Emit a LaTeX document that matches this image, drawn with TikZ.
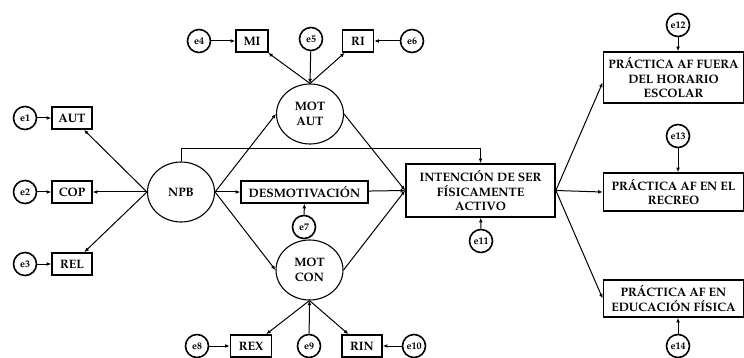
\documentclass[tikz,border=0pt]{standalone}
\usepackage[T1]{fontenc}
\usepackage{mathpazo}
\usetikzlibrary{positioning,arrows.meta,shapes.geometric}

\begin{document}
\begin{tikzpicture}[
    x=1pt, y=-1pt,
    var/.style={
        draw,
        line width=1.7pt,
        inner sep=0pt,
        minimum height=22pt,
        align=center,
        font=\fontsize{12.2}{14.5}\selectfont\bfseries
    },
    latent/.style={
        draw,
        ellipse,
        line width=1.1pt,
        inner sep=0pt,
        minimum width=67pt,
        minimum height=60pt,
        align=center,
        font=\fontsize{12.2}{14.5}\selectfont\bfseries
    },
    err/.style={draw, circle, line width=1.6pt, minimum size=23pt, inner sep=0pt,
        font=\fontsize{10}{11}\selectfont\bfseries},
    path/.style={-{Latex[length=4.5pt,width=3.8pt]}, line width=1pt}
]
\useasboundingbox (0,0) rectangle (744,358);

% Need for basic psychological needs
\node[latent] (npb) at (181,192) {NPB};
\node[var, minimum width=40pt] (aut) at (72,118) {AUT};
\node[var, minimum width=40pt] (cop) at (72,192) {COP};
\node[var, minimum width=40pt] (rel) at (72,264) {REL};
\node[err] (e1) at (25,118) {e1};
\node[err] (e2) at (25,192) {e2};
\node[err] (e3) at (25,264) {e3};

% Autonomous motivation
\node[latent] (motaut) at (310,114) {MOT\\AUT};
\node[var, minimum width=32pt] (mi) at (252,41) {MI};
\node[var, minimum width=31pt] (ri) at (358,41) {RI};
\node[err] (e4) at (199,41) {e4};
\node[err] (e5) at (311,39) {e5};
\node[err] (e6) at (412,41) {e6};

% Amotivation
\node[var, minimum width=127pt] (desmot) at (304.5,192) {DESMOTIVACI\'ON};
\node[err] (e7) at (304,227) {e7};

% Controlled motivation
\node[latent] (motcon) at (309.5,270) {MOT\\CON};
\node[var, minimum width=41pt] (rex) at (251,346) {REX};
\node[var, minimum width=40pt] (rin) at (362,346) {RIN};
\node[err] (e8) at (197,346) {e8};
\node[err] (e9) at (309,346) {e9};
\node[err] (e10) at (414,346) {e10};

% Intention
\node[var, minimum width=149pt, minimum height=53pt] (int) at (480.5,190.5)
    {INTENCI\'ON DE SER\\F\'ISICAMENTE\\ACTIVO};
\node[err] (e11) at (481,241) {e11};

% Physical activity outcomes
\node[var, minimum width=140pt, minimum height=51pt] (fuera) at (673.5,77.5)
    {PR\'ACTICA AF FUERA\\DEL HORARIO\\ESCOLAR};
\node[var, minimum width=140pt, minimum height=38pt] (recreo) at (673.5,192)
    {PR\'ACTICA AF EN EL\\RECREO};
\node[var, minimum width=140pt, minimum height=37pt] (ef) at (673.5,298.5)
    {PR\'ACTICA AF EN\\EDUCACI\'ON F\'ISICA};
\node[err] (e12) at (678,25) {e12};
\node[err] (e13) at (678,136) {e13};
\node[err] (e14) at (678,346) {e14};

% Error terms
\draw[path] (e1) -- (aut);
\draw[path] (e2) -- (cop);
\draw[path] (e3) -- (rel);
\draw[path] (e4) -- (mi);
\draw[path] (e6) -- (ri);
\draw[path] (e5) -- (motaut.north);
\draw[path] (e7) -- (desmot);
\draw[path] (e8) -- (rex);
\draw[path] (e10) -- (rin);
\draw[path] (e9) -- (motcon.south);
\draw[path] (e11) -- (int);
\draw[path] (e12) -- (e12 |- fuera.north);
\draw[path] (e13) -- (e13 |- recreo.north);
\draw[path] (e14) -- (e14 |- ef.south);

% Indicators
\draw[path] (npb.west) -- (aut);
\draw[path] (npb.west) -- (cop);
\draw[path] (npb.west) -- (rel);
\draw[path] (motaut.north) -- (mi);
\draw[path] (motaut.north) -- (ri);
\draw[path] (motcon.south) -- (rex);
\draw[path] (motcon.south) -- (rin);

% Structural paths
\draw[path] (npb.east) -- (motaut.west);
\draw[path] (npb.east) -- (desmot);
\draw[path] (npb.east) -- (motcon.west);
\draw[path] (npb.north) -- ++(0,-13) -| (int.north);
\draw[path] (motaut.east) -- (int.west);
\draw[path] (desmot) -- (int.west);
\draw[path] (motcon.east) -- (int.west);
\draw[path] (int.east) -- ([yshift=-5pt]fuera.west);
\draw[path] (int.east) -- (recreo.west);
\draw[path] (int.east) -- (ef.west);

\end{tikzpicture}
\end{document}
